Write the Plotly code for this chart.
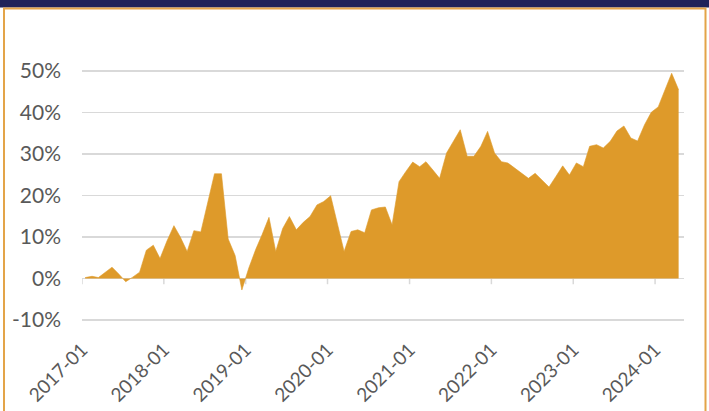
import pandas as pd
import plotly.graph_objects as go

# ---- data -------------------------------------------------------------
months = [p.strftime("%Y-%m") for p in pd.period_range("2017-01", "2024-04", freq="M")]
returns_pct = [
    0.2, 0.5, 0.2, 1.5, 2.7, 1.0, -0.8, 0.3, 1.5, 6.8, 8.0, 4.8,        # 2017
    9.0, 12.7, 10.0, 6.5, 11.5, 11.2, 18.0, 25.2, 25.2, 9.5, 5.5, -2.8,  # 2018
    2.5, 7.0, 10.5, 14.7, 6.5, 12.0, 14.9, 11.7, 13.5, 14.9, 17.7, 18.5, # 2019
    19.9, 13.0, 6.5, 11.3, 11.7, 11.0, 16.5, 17.0, 17.2, 12.9, 23.3, 25.7,  # 2020
    28.0, 26.9, 28.1, 26.1, 24.1, 30.2, 33.0, 35.8, 29.4, 29.4, 31.8, 35.4,  # 2021
    30.2, 28.1, 27.8, 26.5, 25.2, 24.1, 25.3, 23.7, 22.0, 24.5, 27.1, 24.9,  # 2022
    27.8, 26.9, 31.8, 32.2, 31.4, 33.0, 35.5, 36.7, 33.8, 33.1, 37.0, 40.0,  # 2023
    41.3, 45.5, 49.4, 45.4,                                                # 2024
]
tick_labels = ["2017-01", "2018-01", "2019-01", "2020-01",
               "2021-01", "2022-01", "2023-01", "2024-01"]
y_ticks = [-10, 0, 10, 20, 30, 40, 50]
y_tick_labels = ["-10%", "0%", "10%", "20%", "30%", "40%", "50%"]

# ---- layout helpers ---------------------------------------------------
W, H = 709, 411
ML, MR, MT, MB = 82, 25, 50, 89
PW, PH = W - ML - MR, H - MT - MB

def px_x(p):
    return (p - ML) / PW

def px_y(p):
    return (H - MB - p) / PH

x_dates = [pd.Timestamp(m + "-01") + pd.Timedelta(days=14) for m in months]
tick_dates = [pd.Timestamp(t + "-01") for t in tick_labels]

GOLD = "#DE9A2A"
GRID = "#D9D9D9"
TXT = "#595959"
FONT = "Lato"

fig = go.Figure()
fig.add_trace(go.Scatter(
    x=x_dates, y=returns_pct, mode="lines", fill="tozeroy",
    fillcolor=GOLD, line=dict(color=GOLD, width=0.6), hoverinfo="skip",
))

shapes = []
# navy banner at top
shapes.append(dict(type="rect", xref="paper", yref="paper",
                   x0=px_x(-10), x1=px_x(W + 10), y0=px_y(7.5), y1=px_y(-10),
                   fillcolor="#1F2259", line=dict(width=0), layer="below"))
# orange frame of the panel
shapes.append(dict(type="rect", xref="paper", yref="paper",
                   x0=px_x(4), x1=px_x(705.5), y0=px_y(H + 20), y1=px_y(8.5),
                   fillcolor="rgba(0,0,0,0)", line=dict(color="#E3A449", width=2),
                   layer="below"))
# tick marks hanging from the zero line
for d in tick_dates:
    shapes.append(dict(type="line", xref="x", yref="y",
                       x0=d, x1=d, y0=0, y1=-1.4,
                       line=dict(color=GRID, width=1.5), layer="below"))

fig.update_layout(
    width=W, height=H,
    margin=dict(l=ML, r=MR, t=MT, b=MB, pad=0, autoexpand=False),
    paper_bgcolor="white", plot_bgcolor="white",
    showlegend=False,
    shapes=shapes,
    font=dict(family=FONT, color=TXT, size=21),
)
fig.update_xaxes(
    type="date", automargin=False,
    range=[pd.Timestamp("2017-01-01"), pd.Timestamp("2024-05-09")],
    tickvals=tick_dates, ticktext=tick_labels, tickangle=-45,
    showgrid=False, zeroline=False, showline=False, ticks="",
    ticklabelstandoff=12,
    tickfont=dict(family=FONT, size=19, color=TXT),
)
fig.update_yaxes(
    automargin=False,
    range=[-10.5, 55], tickvals=y_ticks, ticktext=y_tick_labels,
    showgrid=True, gridcolor=GRID, gridwidth=1.5,
    zeroline=True, zerolinecolor=GRID, zerolinewidth=1.5,
    showline=False, ticks="", ticklabelstandoff=20,
    tickfont=dict(family=FONT, size=21, color=TXT),
)

fig.write_html(
    "out.html",
    config={"displayModeBar": False, "staticPlot": True},
    post_script="document.body.style.margin='0';document.body.style.overflow='hidden';",
)
